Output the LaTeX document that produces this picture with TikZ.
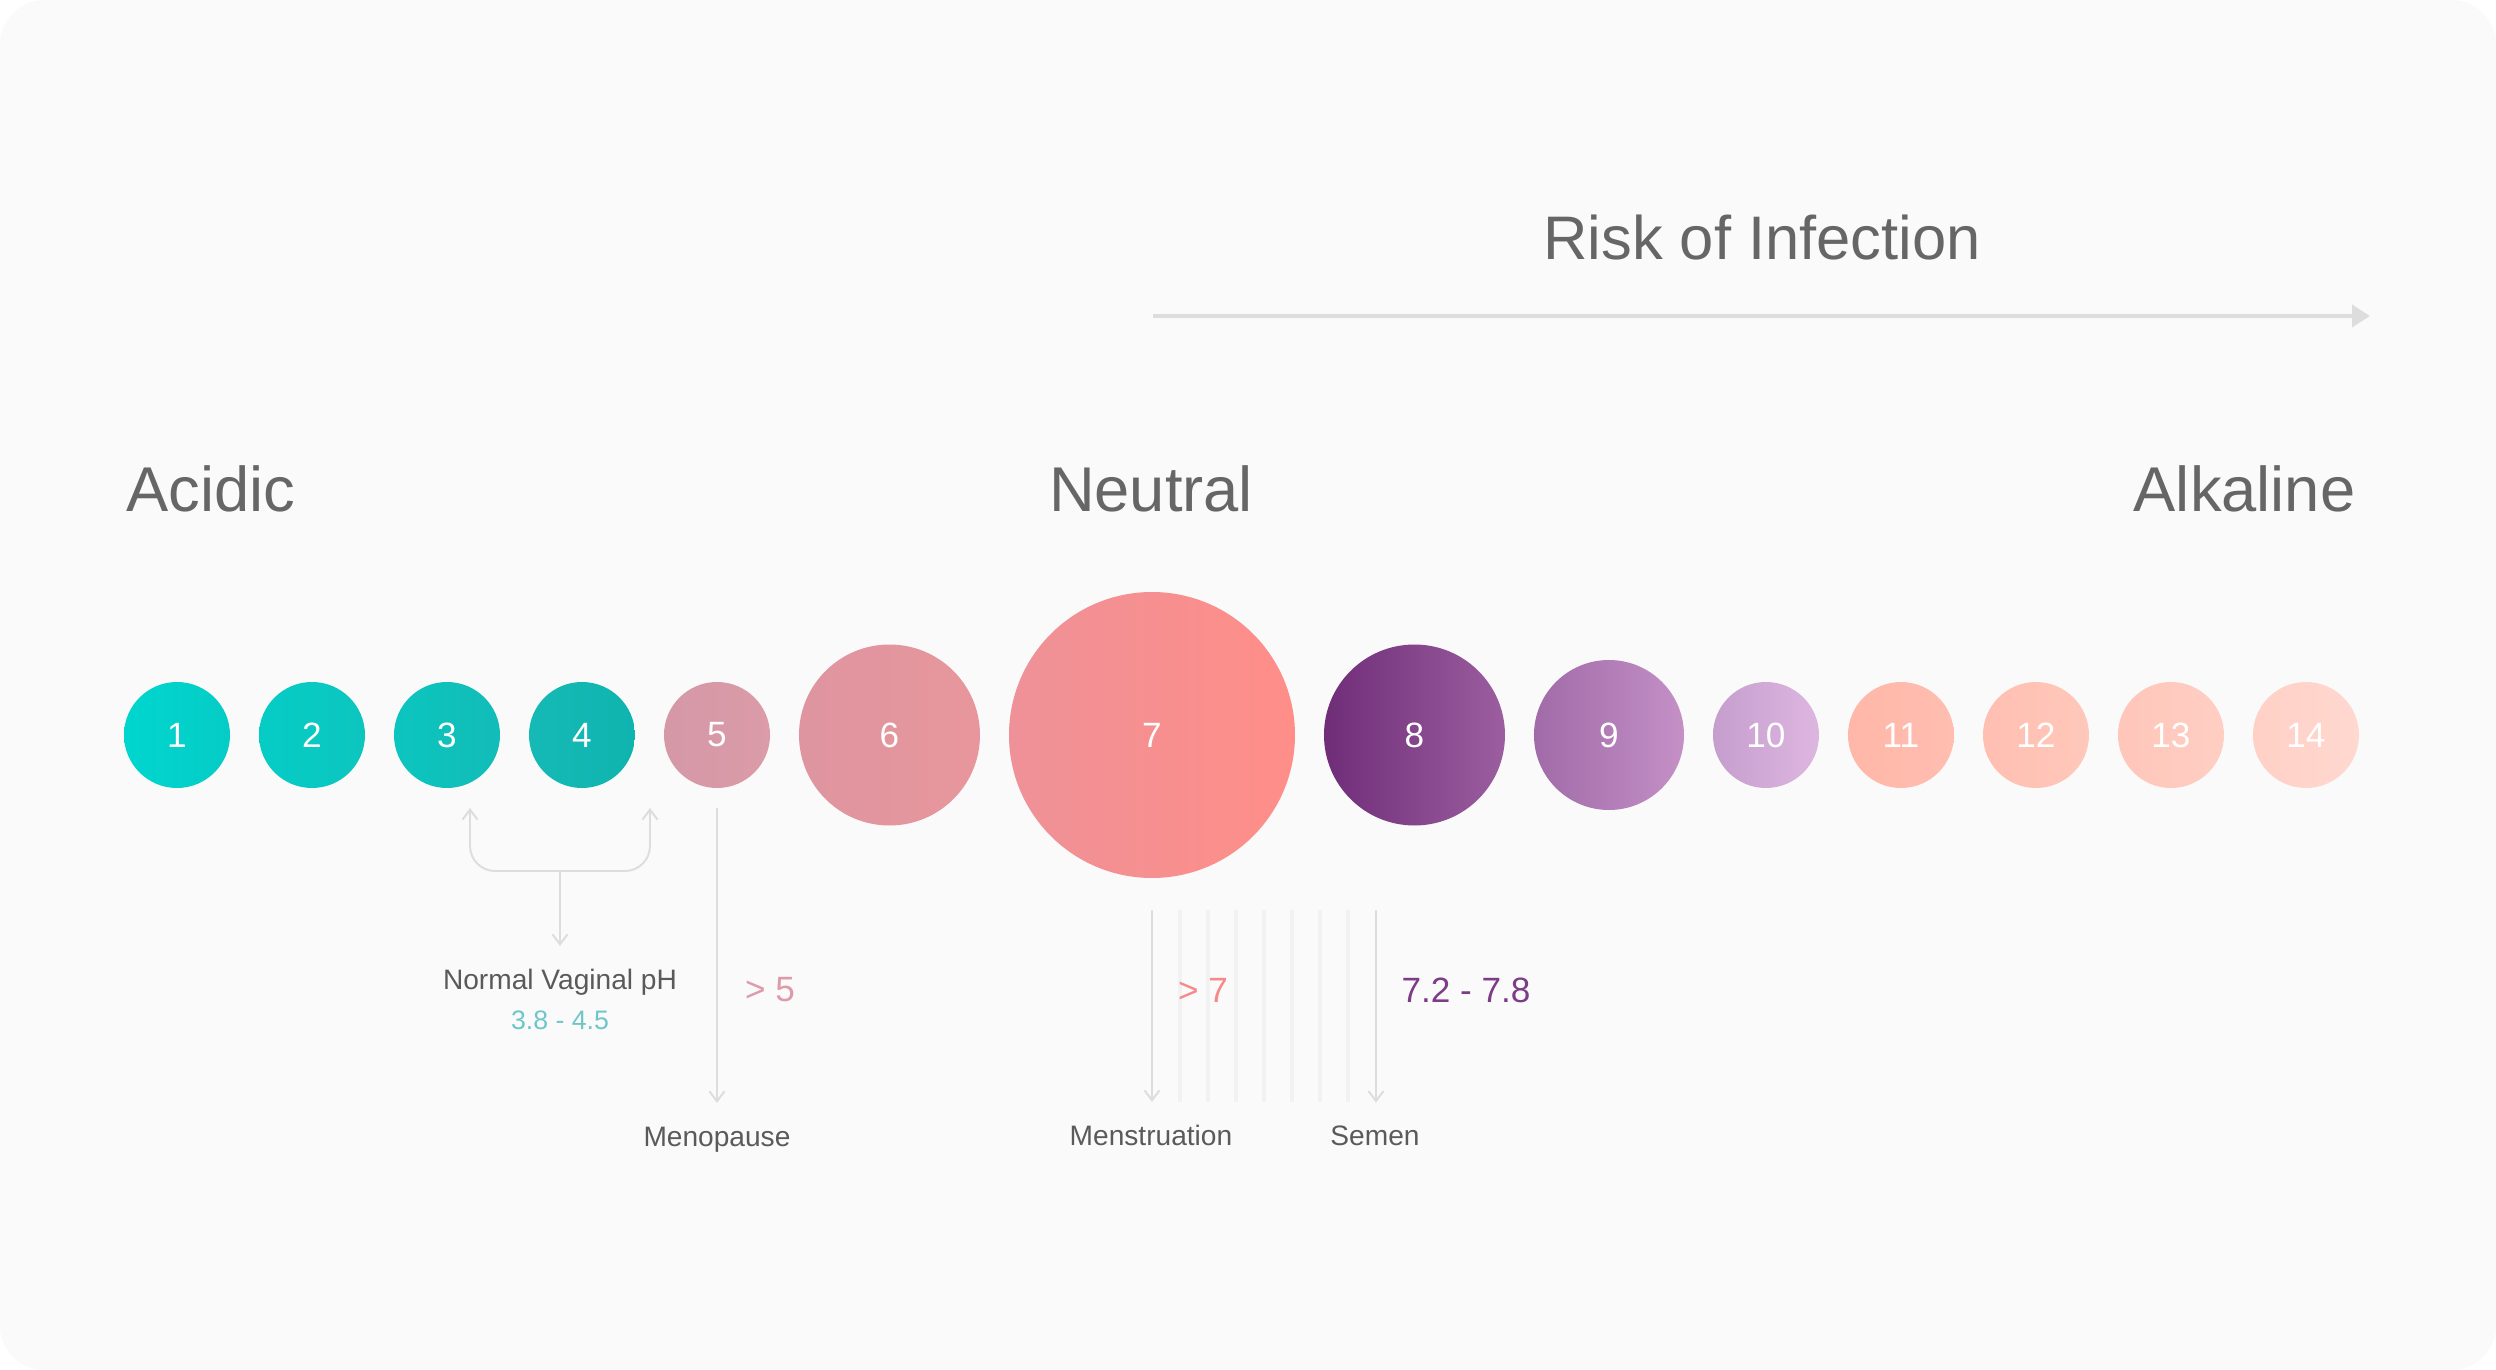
\documentclass[tikz,border=0pt]{standalone}
\usepackage{fontspec}
\setmainfont{Liberation Sans}
\usepackage{tikz}
\usetikzlibrary{arrows.meta,positioning}
\definecolor{PhPaper}{HTML}{FAFAFA}
\definecolor{PhGrey}{HTML}{666666}
\definecolor{PhDark}{HTML}{5A5A5A}
\definecolor{PhLine}{HTML}{DDDDDD}
\definecolor{PhFaint}{HTML}{F2F2F2}
\definecolor{PhAqua}{HTML}{6FC6C9}
\definecolor{PhRose}{HTML}{DE9AAA}
\definecolor{PhSalmon}{HTML}{F7898B}
\definecolor{PhPlum}{HTML}{7D3C87}
% circle shades, left / right
\definecolor{PhOneL}{HTML}{00D6CE}   \definecolor{PhOneR}{HTML}{05CCC6}
\definecolor{PhTwoL}{HTML}{06CCC6}   \definecolor{PhTwoR}{HTML}{0DC5BF}
\definecolor{PhThreeL}{HTML}{0CC5BF} \definecolor{PhThreeR}{HTML}{12BCB7}
\definecolor{PhFourL}{HTML}{15B9B5}  \definecolor{PhFourR}{HTML}{10B4AF}
\definecolor{PhFiveL}{HTML}{D598A7}  \definecolor{PhFiveR}{HTML}{DB9BA8}
\definecolor{PhSixL}{HTML}{DE95A0}   \definecolor{PhSixR}{HTML}{E8969C}
\definecolor{PhSevenL}{HTML}{EE9198} \definecolor{PhSevenR}{HTML}{FF8E88}
\definecolor{PhEightL}{HTML}{6F2D78} \definecolor{PhEightR}{HTML}{9B5E9F}
\definecolor{PhNineL}{HTML}{A06BA8}  \definecolor{PhNineR}{HTML}{C490C6}
\definecolor{PhTenL}{HTML}{C69ECE}   \definecolor{PhTenR}{HTML}{DDB6E0}
\definecolor{PhElevL}{HTML}{FFB7A9}  \definecolor{PhElevR}{HTML}{FFBEB0}
\definecolor{PhTwelL}{HTML}{FFBFB2}  \definecolor{PhTwelR}{HTML}{FFC8BA}
\definecolor{PhThirL}{HTML}{FFC6BA}  \definecolor{PhThirR}{HTML}{FFCEC3}
\definecolor{PhFourtL}{HTML}{FFD0C6} \definecolor{PhFourtR}{HTML}{FFD8CF}

\begin{document}
\begin{tikzpicture}[
  x=0.1mm,y=-0.1mm,
  node distance=2.9mm,
  every node/.style={inner sep=0pt},
  dot/.style n args={3}{circle,outer sep=0pt,minimum size=#1,left color=#2,right color=#3,
              text=white,font=\fontsize{10}{12}\selectfont},
  side/.style={text=PhGrey,font=\fontsize{18}{22}\selectfont,anchor=base},
  tag/.style={text=PhDark,font=\fontsize{8}{10}\selectfont,anchor=base},
  phvalue/.style={font=\fontsize{10}{12}\selectfont,anchor=base},
  link/.style={-{Straight Barb[length=1mm,width=1.5mm]},PhLine,line width=0.55pt},
  faintline/.style={PhFaint,line width=0.9pt},
  riskline/.style={-{Triangle[length=1.8mm,width=2.2mm]},PhLine,line width=1.05pt}
]
  \fill[white] (0,0) rectangle (2496,1370);
  \fill[PhPaper,rounded corners=4.5mm] (0,0) rectangle (2496,1370);
  \useasboundingbox (0,0) rectangle (2496,1370);

  % risk arrow
  \node[side,font=\fontsize{17.5}{21}\selectfont] (risk) at (1762,260) {Risk of Infection};
  \coordinate (rs) at (1153,316);
  \coordinate (re) at (2370,316);
  \draw[riskline] (rs) -- (re);

  \node[side,anchor=base west] (acid) at (126,511) {Acidic};
  \node[side] (neut) at (1151,511) {Neutral};
  \node[side,anchor=base east] (alk) at (2356,511) {Alkaline};

  % the scale
  \node[dot={10.6mm}{PhOneL}{PhOneR}] (c1) at (177,735) {1};
  \node[dot={10.6mm}{PhTwoL}{PhTwoR},right=of c1] (c2) {2};
  \node[dot={10.6mm}{PhThreeL}{PhThreeR},right=of c2] (c3) {3};
  \node[dot={10.6mm}{PhFourL}{PhFourR},right=of c3] (c4) {4};
  \node[dot={10.6mm}{PhFiveL}{PhFiveR},right=of c4] (c5) {5};
  \node[dot={18.1mm}{PhSixL}{PhSixR},right=of c5] (c6) {6};
  \node[dot={28.6mm}{PhSevenL}{PhSevenR},right=of c6] (c7) {7};
  \node[dot={18.1mm}{PhEightL}{PhEightR},right=of c7] (c8) {8};
  \node[dot={15mm}{PhNineL}{PhNineR},right=of c8] (c9) {9};
  \node[dot={10.6mm}{PhTenL}{PhTenR},right=of c9] (c10) {10};
  \node[dot={10.6mm}{PhElevL}{PhElevR},right=of c10] (c11) {11};
  \node[dot={10.6mm}{PhTwelL}{PhTwelR},right=of c11] (c12) {12};
  \node[dot={10.6mm}{PhThirL}{PhThirR},right=of c12] (c13) {13};
  \node[dot={10.6mm}{PhFourtL}{PhFourtR},right=of c13] (c14) {14};

  % normal range
  \node[tag] (nvph) at (560,989) {Normal Vaginal pH};
  \node[tag,text=PhAqua,font=\fontsize{7.6}{9}\selectfont] (nvrange) at (560,1029) {3.8 - 4.5};
  \coordinate (nvj) at (560,871);
  \coordinate (nv3) at (470,808);
  \coordinate (nv4) at (650,808);
  \draw[link,rounded corners=2.5mm] (nvj) -| (nv3);
  \draw[link,rounded corners=2.5mm] (nvj) -| (nv4);
  \draw[link,shorten >=2.2mm] (nvj) -- (nvph.north);

  % menopause
  \node[tag] (meno) at (717,1146) {Menopause};
  \node[phvalue,text=PhRose] (gt5) at (770,1001) {> 5};
  \draw[link,shorten >=2.3mm] ([yshift=-2mm]c5.south) -- (c5.south |- meno.north);

  % menstruation and semen
  \node[tag] (mens) at (1151,1145) {Menstruation};
  \node[tag] (semen) at (1375,1145) {Semen};
  \coordinate (mtop) at ([yshift=-3.2mm]c7.south);
  \foreach \k in {1,...,7}
    \draw[faintline] ([xshift=\k*2.8mm]mtop) -- ([xshift=\k*2.8mm,yshift=2.2mm]mtop |- mens.north);
  \draw[link,shorten >=2.2mm] (mtop) -- (mtop |- mens.north);
  \draw[link,shorten >=2.2mm] ([xshift=22.4mm]mtop) -- ([xshift=22.4mm]mtop |- semen.north);
  \node[phvalue,text=PhSalmon] (gt7) at (1203,1002) {> 7};
  \node[phvalue,text=PhPlum] (sem) at (1466,1002) {7.2 - 7.8};
\end{tikzpicture}
\end{document}
